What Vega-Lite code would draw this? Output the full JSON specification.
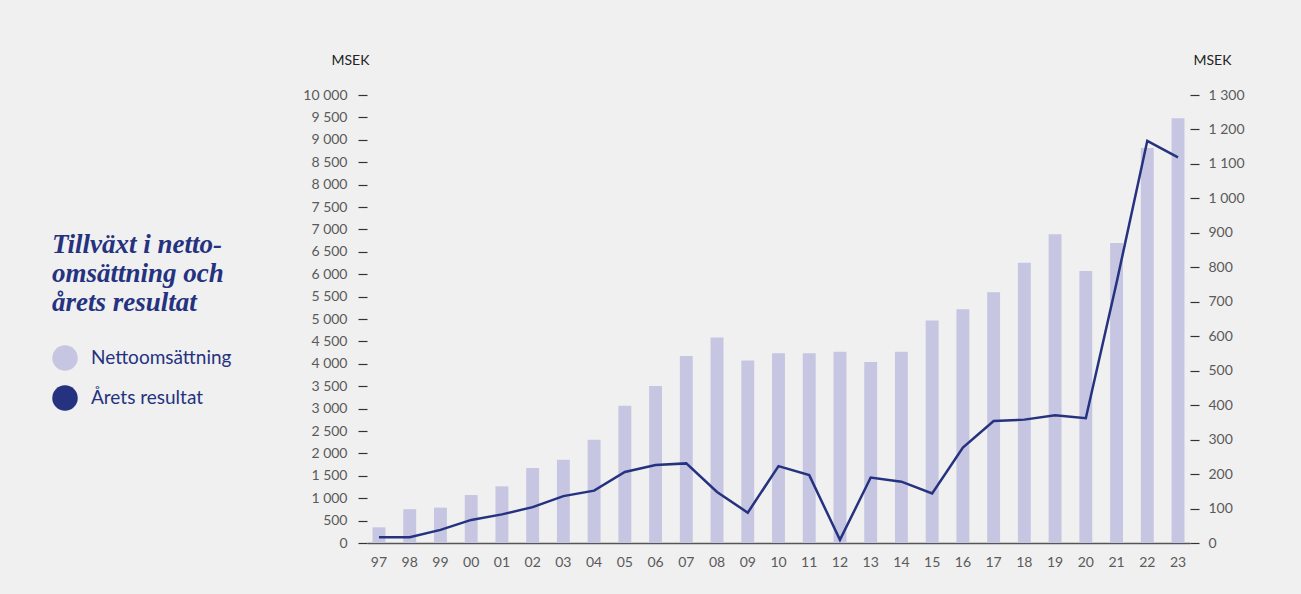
{
  "$schema": "https://vega.github.io/schema/vega-lite/v6.json",
  "width": 823,
  "height": 448,
  "autosize": {"type": "none"},
  "padding": {"left": 367, "top": 95, "right": 111, "bottom": 51},
  "background": "#f0f0f0",
  "config": {
    "view": {"stroke": null},
    "locale": {"number": {"decimal": ",", "thousands": " ", "grouping": [3], "currency": ["", " kr"]}},
    "axis": {"labelFont": "Lato", "labelFontWeight": 400, "labelFontSize": 14, "labelColor": "#5a5a5a", "titleFont": "Lato", "titleFontWeight": 400, "titleFontSize": 14, "titleColor": "#222222", "grid": false}
  },
  "data": {
    "values": [
      {"year": "97", "net": 350, "result": 17},
      {"year": "98", "net": 755, "result": 17},
      {"year": "99", "net": 790, "result": 38},
      {"year": "00", "net": 1070, "result": 67},
      {"year": "01", "net": 1265, "result": 83},
      {"year": "02", "net": 1675, "result": 104},
      {"year": "03", "net": 1860, "result": 136},
      {"year": "04", "net": 2305, "result": 152},
      {"year": "05", "net": 3065, "result": 206},
      {"year": "06", "net": 3505, "result": 226},
      {"year": "07", "net": 4175, "result": 231},
      {"year": "08", "net": 4585, "result": 148},
      {"year": "09", "net": 4075, "result": 88},
      {"year": "10", "net": 4235, "result": 223},
      {"year": "11", "net": 4235, "result": 197},
      {"year": "12", "net": 4270, "result": 9},
      {"year": "13", "net": 4040, "result": 190},
      {"year": "14", "net": 4270, "result": 178},
      {"year": "15", "net": 4965, "result": 144},
      {"year": "16", "net": 5215, "result": 277},
      {"year": "17", "net": 5595, "result": 354},
      {"year": "18", "net": 6255, "result": 358},
      {"year": "19", "net": 6890, "result": 371},
      {"year": "20", "net": 6070, "result": 362},
      {"year": "21", "net": 6695, "result": 755},
      {"year": "22", "net": 8815, "result": 1167},
      {"year": "23", "net": 9480, "result": 1119}
    ]
  },
  "encoding": {
    "x": {
      "field": "year",
      "type": "ordinal",
      "sort": null,
      "scale": {"paddingInner": 0.58, "paddingOuter": 0.18},
      "axis": {"title": null, "labelAngle": 0, "ticks": false, "labelPadding": 12, "domainColor": "#555555", "domainWidth": 1.5}
    }
  },
  "layer": [
    {
      "mark": {"type": "bar"},
      "encoding": {
        "y": {
          "field": "net",
          "type": "quantitative",
          "scale": {"domain": [0, 10000], "nice": false},
          "axis": {
            "title": "MSEK",
            "titleAngle": 0,
            "titleAlign": "center",
            "titleBaseline": "middle",
            "titleX": -17,
            "titleY": -35,
            "values": [0, 500, 1000, 1500, 2000, 2500, 3000, 3500, 4000, 4500, 5000, 5500, 6000, 6500, 7000, 7500, 8000, 8500, 9000, 9500, 10000],
            "format": ",d",
            "domain": false,
            "tickSize": 9,
            "tickColor": "#333333",
            "tickWidth": 1.2,
            "labelPadding": 11
          }
        },
        "color": {
          "datum": "Nettoomsättning",
          "scale": {"domain": ["Nettoomsättning", "Årets resultat"], "range": ["#c6c6e2", "#25327f"]},
          "legend": {
            "orient": "none",
            "legendX": -315,
            "legendY": 137,
            "title": ["Tillväxt i netto-", "omsättning och", "årets resultat"],
            "titleFont": "Liberation Serif",
            "titleFontStyle": "italic",
            "titleFontWeight": "bold",
            "titleFontSize": 27,
            "titleColor": "#25327f",
            "titleLineHeight": 29,
            "titlePadding": 28,
            "titleLimit": 400,
            "symbolType": "circle",
            "symbolSize": 650,
            "labelFont": "Lato",
            "labelFontSize": 19,
            "labelColor": "#25327f",
            "labelOffset": 13,
            "rowPadding": 14,
            "encode": {
              "symbols": {
                "update": {
                  "fill": {"scale": "color", "field": "value"},
                  "stroke": {"value": "transparent"},
                  "strokeWidth": {"value": 0},
                  "opacity": {"value": 1}
                }
              }
            }
          }
        }
      }
    },
    {
      "mark": {"type": "line", "strokeWidth": 2.5},
      "encoding": {
        "y": {
          "field": "result",
          "type": "quantitative",
          "scale": {"domain": [0, 1300], "nice": false},
          "axis": {
            "orient": "right",
            "title": "MSEK",
            "titleAngle": 0,
            "titleAlign": "center",
            "titleBaseline": "middle",
            "titleX": 22,
            "titleY": -35,
            "values": [0, 100, 200, 300, 400, 500, 600, 700, 800, 900, 1000, 1100, 1200, 1300],
            "format": ",d",
            "domain": false,
            "tickSize": 9,
            "tickColor": "#333333",
            "tickWidth": 1.2,
            "labelPadding": 9
          }
        },
        "color": {"datum": "Årets resultat"}
      }
    }
  ],
  "resolve": {"scale": {"y": "independent"}}
}
